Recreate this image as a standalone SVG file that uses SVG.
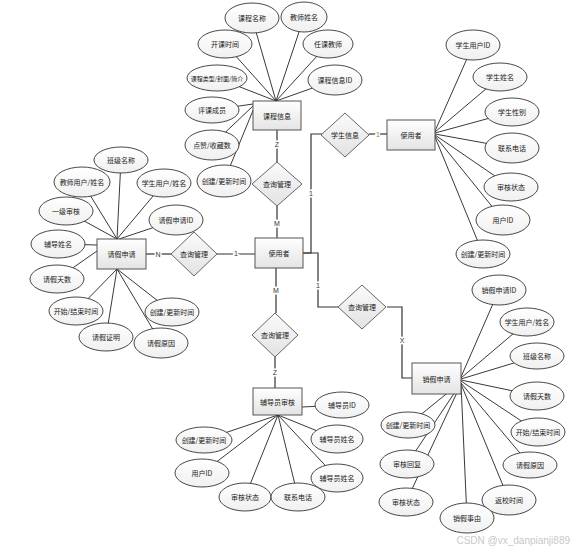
<svg xmlns="http://www.w3.org/2000/svg" width="574" height="548" viewBox="0 0 574 548">
<defs>
<linearGradient id="gBox" x1="0" y1="0" x2="0" y2="1"><stop offset="0" stop-color="#ffffff"/><stop offset="1" stop-color="#e4e4e4"/></linearGradient>
<linearGradient id="gEll" x1="0" y1="0" x2="0" y2="1"><stop offset="0" stop-color="#ffffff"/><stop offset="1" stop-color="#f0f0f0"/></linearGradient>
<linearGradient id="gDia" x1="0" y1="0" x2="0" y2="1"><stop offset="0" stop-color="#fbfbfb"/><stop offset="1" stop-color="#e2e2e2"/></linearGradient>
<style>
.box{fill:url(#gBox);stroke:#555;stroke-width:1}
.ell{fill:url(#gEll);stroke:#333;stroke-width:0.9}
.dia{fill:url(#gDia);stroke:#666;stroke-width:1}
.ln{stroke:#222;stroke-width:0.9;fill:none}
.cn{stroke:#333;stroke-width:1.2;fill:none}
text{font-family:"Noto Sans CJK SC","Liberation Sans",sans-serif;font-size:7px;fill:#222;text-anchor:middle;dominant-baseline:central}
.sm{font-size:6px}
.lb{font-family:"Liberation Sans",sans-serif;font-size:7px;fill:#333;stroke:#fff;stroke-width:3;paint-order:stroke}
.wm{font-family:"Liberation Sans",sans-serif;font-size:10px;fill:#c8c8c8;text-anchor:end}
</style>
</defs>
<rect width="574" height="548" fill="#ffffff"/>
<g id="connectors">
<line class="ln" x1="276" y1="101" x2="252" y2="18"/>
<line class="ln" x1="276" y1="101" x2="304" y2="17"/>
<line class="ln" x1="276" y1="101" x2="225" y2="44"/>
<line class="ln" x1="276" y1="101" x2="328" y2="44"/>
<line class="ln" x1="276" y1="101" x2="217" y2="78"/>
<line class="ln" x1="276" y1="101" x2="335" y2="80"/>
<line class="ln" x1="253" y1="104" x2="212" y2="110"/>
<line class="ln" x1="253" y1="106" x2="212" y2="145"/>
<line class="ln" x1="254" y1="108" x2="224" y2="181"/>
<line class="ln" x1="435" y1="131" x2="473" y2="45"/>
<line class="ln" x1="435" y1="132" x2="500" y2="77"/>
<line class="ln" x1="435" y1="133" x2="512" y2="112"/>
<line class="ln" x1="435" y1="134" x2="512" y2="148"/>
<line class="ln" x1="435" y1="135" x2="511" y2="187"/>
<line class="ln" x1="435" y1="136" x2="503" y2="220"/>
<line class="ln" x1="435" y1="137" x2="483" y2="254"/>
<line class="ln" x1="117" y1="239" x2="121" y2="160"/>
<line class="ln" x1="117" y1="239" x2="82" y2="182"/>
<line class="ln" x1="117" y1="239" x2="164" y2="183"/>
<line class="ln" x1="117" y1="239" x2="66" y2="211"/>
<line class="ln" x1="119" y1="239" x2="176" y2="220"/>
<line class="ln" x1="97" y1="245" x2="58" y2="244"/>
<line class="ln" x1="97" y1="251" x2="57" y2="279"/>
<line class="ln" x1="117" y1="269" x2="76" y2="311"/>
<line class="ln" x1="117" y1="269" x2="172" y2="312"/>
<line class="ln" x1="117" y1="269" x2="106" y2="337"/>
<line class="ln" x1="117" y1="269" x2="161" y2="343"/>
<line class="ln" x1="302" y1="407" x2="342" y2="405"/>
<line class="ln" x1="278" y1="415" x2="204" y2="440"/>
<line class="ln" x1="278" y1="415" x2="337" y2="439"/>
<line class="ln" x1="278" y1="415" x2="202" y2="473"/>
<line class="ln" x1="278" y1="415" x2="337" y2="478"/>
<line class="ln" x1="278" y1="415" x2="245" y2="497"/>
<line class="ln" x1="278" y1="415" x2="298" y2="497"/>
<line class="ln" x1="461" y1="377" x2="499" y2="290"/>
<line class="ln" x1="461" y1="378" x2="527" y2="322"/>
<line class="ln" x1="461" y1="379" x2="537" y2="356"/>
<line class="ln" x1="461" y1="380" x2="537" y2="396"/>
<line class="ln" x1="461" y1="381" x2="538" y2="432"/>
<line class="ln" x1="461" y1="382" x2="408" y2="425"/>
<line class="ln" x1="461" y1="383" x2="407" y2="464"/>
<line class="ln" x1="461" y1="383" x2="530" y2="465"/>
<line class="ln" x1="461" y1="384" x2="406" y2="502"/>
<line class="ln" x1="461" y1="384" x2="509" y2="500"/>
<line class="ln" x1="461" y1="384" x2="467" y2="518"/>
<polyline class="cn" points="277,130 277,162"/>
<polyline class="cn" points="277,206 277,238"/>
<polyline class="cn" points="146,254 172,254"/>
<polyline class="cn" points="217,254 255,254"/>
<polyline class="cn" points="276,268 276,313"/>
<polyline class="cn" points="275,357 275,388"/>
<polyline class="cn" points="303,253 311,253 311,134 322,134"/>
<polyline class="cn" points="369,134 387,134"/>
<polyline class="cn" points="303,253 318,253 318,307 338,307"/>
<polyline class="cn" points="387,307 402,307 402,378 412,378"/>
</g>
<g id="rel-labels">
<text class="lb" x="277" y="144">Z</text>
<text class="lb" x="277" y="223">M</text>
<text class="lb" x="158" y="254">N</text>
<text class="lb" x="236" y="253">1</text>
<text class="lb" x="276" y="290">M</text>
<text class="lb" x="275" y="372">Z</text>
<text class="lb" x="311" y="193">1</text>
<text class="lb" x="378" y="134" style="fill:#a08030">1</text>
<text class="lb" x="318" y="285">1</text>
<text class="lb" x="402" y="340">X</text>
</g>
<g id="course-info"><rect class="box" x="253" y="101" width="48" height="29"/><text x="277" y="115.5">课程信息</text></g>
<g id="a-c1"><ellipse class="ell" cx="252" cy="18" rx="27" ry="15"/><text x="252" y="18">课程名称</text></g>
<g id="a-c2"><ellipse class="ell" cx="304" cy="17" rx="23" ry="15"/><text x="304" y="17">教师姓名</text></g>
<g id="a-c3"><ellipse class="ell" cx="225" cy="44" rx="27" ry="14"/><text x="225" y="44">开课时间</text></g>
<g id="a-c4"><ellipse class="ell" cx="328" cy="44" rx="25" ry="14"/><text x="328" y="44">任课教师</text></g>
<g id="a-c5"><ellipse class="ell" cx="217" cy="78" rx="30" ry="13"/><text class="sm" x="217" y="78">课程类型/封面/简介</text></g>
<g id="a-c6"><ellipse class="ell" cx="335" cy="80" rx="27" ry="15"/><text x="335" y="80">课程信息ID</text></g>
<g id="a-c7"><ellipse class="ell" cx="212" cy="110" rx="27" ry="13"/><text x="212" y="110">评课成员</text></g>
<g id="a-c8"><ellipse class="ell" cx="212" cy="145" rx="27" ry="15"/><text x="212" y="145">点赞/收藏数</text></g>
<g id="a-c9"><ellipse class="ell" cx="224" cy="181" rx="27" ry="16"/><text x="224" y="181">创建/更新时间</text></g>
<g id="rel-top"><polygon class="dia" points="277,162 302,184 277,206 252,184"/><text x="277" y="184">查询管理</text></g>
<g id="user"><rect class="box" x="255" y="238" width="48" height="30"/><text x="279" y="253">使用者</text></g>
<g id="rel-student"><polygon class="dia" points="345,113 369,135 345,157 321,135"/><text x="345" y="135">学生信息</text></g>
<g id="student"><rect class="box" x="387" y="120" width="48" height="30"/><text x="411" y="135">使用者</text></g>
<g id="a-s1"><ellipse class="ell" cx="473" cy="45" rx="27" ry="15"/><text x="473" y="45">学生用户ID</text></g>
<g id="a-s2"><ellipse class="ell" cx="500" cy="77" rx="27" ry="14"/><text x="500" y="77">学生姓名</text></g>
<g id="a-s3"><ellipse class="ell" cx="512" cy="112" rx="27" ry="14"/><text x="512" y="112">学生性别</text></g>
<g id="a-s4"><ellipse class="ell" cx="512" cy="148" rx="27" ry="15"/><text x="512" y="148">联系电话</text></g>
<g id="a-s5"><ellipse class="ell" cx="511" cy="187" rx="27" ry="14"/><text x="511" y="187">审核状态</text></g>
<g id="a-s6"><ellipse class="ell" cx="503" cy="220" rx="27" ry="15"/><text x="503" y="220">用户ID</text></g>
<g id="a-s7"><ellipse class="ell" cx="483" cy="254" rx="27" ry="14"/><text x="483" y="254">创建/更新时间</text></g>
<g id="rel-left"><polygon class="dia" points="194,232 217,254 194,276 171,254"/><text x="194" y="254">查询管理</text></g>
<g id="leave"><rect class="box" x="97" y="239" width="49" height="30"/><text x="121.5" y="254">请假申请</text></g>
<g id="a-l1"><ellipse class="ell" cx="121" cy="160" rx="27" ry="13"/><text x="121" y="160">班级名称</text></g>
<g id="a-l2"><ellipse class="ell" cx="82" cy="182" rx="28" ry="15"/><text x="82" y="182">教师用户/姓名</text></g>
<g id="a-l3"><ellipse class="ell" cx="164" cy="183" rx="27" ry="14"/><text x="164" y="183">学生用户/姓名</text></g>
<g id="a-l4"><ellipse class="ell" cx="66" cy="211" rx="27" ry="14"/><text x="66" y="211">一级审核</text></g>
<g id="a-l5"><ellipse class="ell" cx="176" cy="220" rx="27" ry="15"/><text x="176" y="220">请假申请ID</text></g>
<g id="a-l6"><ellipse class="ell" cx="58" cy="244" rx="27" ry="14"/><text x="58" y="244">辅导姓名</text></g>
<g id="a-l7"><ellipse class="ell" cx="57" cy="279" rx="27" ry="14"/><text x="57" y="279">请假天数</text></g>
<g id="a-l8"><ellipse class="ell" cx="76" cy="311" rx="27" ry="14"/><text x="76" y="311">开始/结束时间</text></g>
<g id="a-l9"><ellipse class="ell" cx="172" cy="312" rx="27" ry="14"/><text x="172" y="312">创建/更新时间</text></g>
<g id="a-l10"><ellipse class="ell" cx="106" cy="337" rx="27" ry="14"/><text x="106" y="337">请假证明</text></g>
<g id="a-l11"><ellipse class="ell" cx="161" cy="343" rx="27" ry="15"/><text x="161" y="343">请假原因</text></g>
<g id="rel-bottom"><polygon class="dia" points="275,313 298,335 275,357 252,335"/><text x="275" y="335">查询管理</text></g>
<g id="counselor"><rect class="box" x="253" y="388" width="49" height="27"/><text x="277.5" y="401.5">辅导员审核</text></g>
<g id="a-b1"><ellipse class="ell" cx="342" cy="405" rx="27" ry="13"/><text x="342" y="405">辅导员ID</text></g>
<g id="a-b2"><ellipse class="ell" cx="204" cy="440" rx="28" ry="13"/><text x="204" y="440">创建/更新时间</text></g>
<g id="a-b3"><ellipse class="ell" cx="337" cy="439" rx="26" ry="14"/><text x="337" y="439">辅导员姓名</text></g>
<g id="a-b4"><ellipse class="ell" cx="202" cy="473" rx="27" ry="14"/><text x="202" y="473">用户ID</text></g>
<g id="a-b5"><ellipse class="ell" cx="337" cy="478" rx="26" ry="14"/><text x="337" y="478">辅导员姓名</text></g>
<g id="a-b6"><ellipse class="ell" cx="245" cy="497" rx="26" ry="14"/><text x="245" y="497">审核状态</text></g>
<g id="a-b7"><ellipse class="ell" cx="298" cy="497" rx="27" ry="14"/><text x="298" y="497">联系电话</text></g>
<g id="rel-right"><polygon class="dia" points="362,285 386,307 362,329 338,307"/><text x="362" y="307">查询管理</text></g>
<g id="cancel"><rect class="box" x="412" y="363" width="49" height="31"/><text x="436.5" y="378.5">销假申请</text></g>
<g id="a-r1"><ellipse class="ell" cx="499" cy="290" rx="27" ry="15"/><text x="499" y="290">销假申请ID</text></g>
<g id="a-r2"><ellipse class="ell" cx="527" cy="322" rx="27" ry="14"/><text x="527" y="322">学生用户/姓名</text></g>
<g id="a-r3"><ellipse class="ell" cx="537" cy="356" rx="27" ry="13"/><text x="537" y="356">班级名称</text></g>
<g id="a-r4"><ellipse class="ell" cx="537" cy="396" rx="27" ry="14"/><text x="537" y="396">请假天数</text></g>
<g id="a-r5"><ellipse class="ell" cx="538" cy="432" rx="27" ry="14"/><text x="538" y="432">开始/结束时间</text></g>
<g id="a-r6"><ellipse class="ell" cx="408" cy="425" rx="27" ry="13"/><text x="408" y="425">创建/更新时间</text></g>
<g id="a-r7"><ellipse class="ell" cx="407" cy="464" rx="27" ry="14"/><text x="407" y="464">审核回复</text></g>
<g id="a-r8"><ellipse class="ell" cx="530" cy="465" rx="27" ry="13"/><text x="530" y="465">请假原因</text></g>
<g id="a-r9"><ellipse class="ell" cx="406" cy="502" rx="27" ry="14"/><text x="406" y="502">审核状态</text></g>
<g id="a-r10"><ellipse class="ell" cx="509" cy="500" rx="27" ry="15"/><text x="509" y="500">返校时间</text></g>
<g id="a-r11"><ellipse class="ell" cx="467" cy="518" rx="27" ry="15"/><text x="467" y="518">销假事由</text></g>
<text class="wm" x="570" y="540">CSDN @vx_danpianji889</text>
</svg>
